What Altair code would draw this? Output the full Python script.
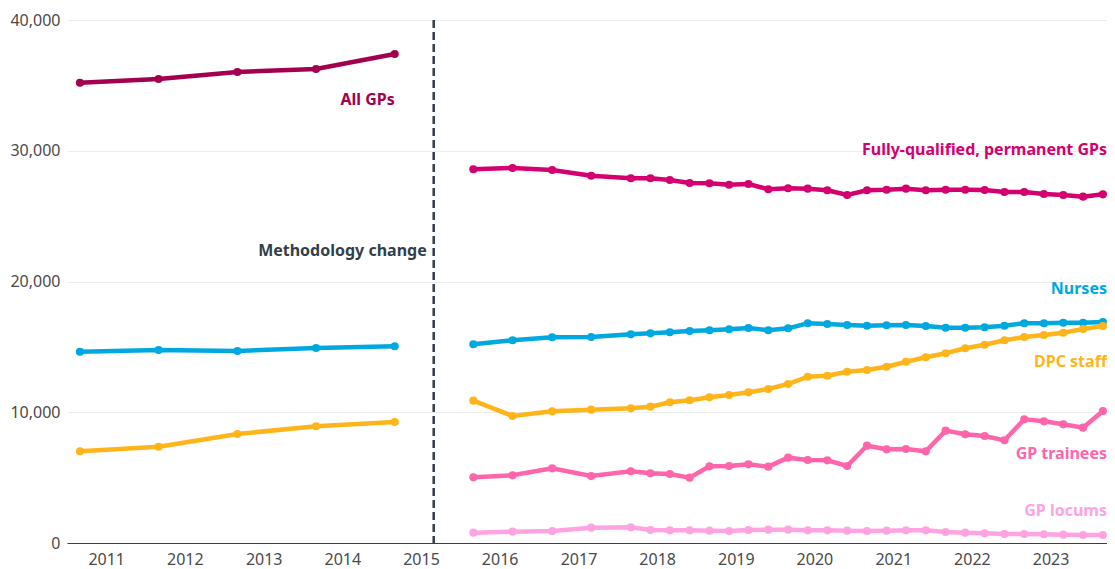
import altair as alt
import pandas as pd

# ---- data ----
pre_dates = ["2010-09-01", "2011-09-01", "2012-09-01", "2013-09-01", "2014-09-01"]
post_dates = ["2015-09-01", "2016-03-01", "2016-09-01", "2017-03-01", "2017-09-01",
              "2017-12-01", "2018-03-01", "2018-06-01", "2018-09-01", "2018-12-01",
              "2019-03-01", "2019-06-01", "2019-09-01", "2019-12-01", "2020-03-01",
              "2020-06-01", "2020-09-01", "2020-12-01", "2021-03-01", "2021-06-01",
              "2021-09-01", "2021-12-01", "2022-03-01", "2022-06-01", "2022-09-01",
              "2022-12-01", "2023-03-01", "2023-06-01", "2023-09-01"]

all_gps_pre = [35205, 35488, 36023, 36252, 37400]
nurses_pre = [14631, 14761, 14685, 14914, 15044]
dpc_pre = [7013, 7365, 8336, 8925, 9254]

fq_gps = [28581, 28681, 28528, 28092, 27893, 27893, 27763, 27533, 27510, 27404,
          27457, 27052, 27128, 27100, 26975, 26616, 26975, 27021, 27100, 26975,
          27021, 27021, 26998, 26845, 26845, 26692, 26616, 26488, 26667]
nurses_post = [15197, 15503, 15732, 15755, 15959, 16036, 16115, 16214, 16268, 16344,
               16444, 16268, 16420, 16803, 16750, 16673, 16620, 16650, 16673, 16597,
               16467, 16467, 16497, 16620, 16803, 16803, 16849, 16849, 16902]
dpc_post = [10885, 9713, 10071, 10198, 10300, 10428, 10760, 10913, 11141, 11319,
            11523, 11780, 12161, 12719, 12795, 13101, 13231, 13484, 13866, 14203,
            14509, 14891, 15166, 15503, 15755, 15908, 16084, 16367, 16597]
trainees = [5022, 5175, 5711, 5124, 5481, 5328, 5277, 4997, 5864, 5889,
            6016, 5838, 6527, 6348, 6322, 5889, 7444, 7164, 7189, 7011,
            8592, 8311, 8184, 7852, 9458, 9305, 9075, 8821, 10096]
locums = [790, 867, 918, 1173, 1198, 994, 969, 969, 943, 918,
          994, 1020, 1020, 969, 969, 943, 918, 943, 969, 969,
          841, 790, 739, 688, 688, 663, 637, 612, 612]

series_names = ["All GPs", "Fully-qualified, permanent GPs", "Nurses", "DPC staff",
                "GP trainees", "GP locums"]
series_colors = ["#a3004f", "#d4006f", "#00a8e0", "#ffb519", "#ff65ab", "#ffa3e3"]

method_date = ["2015-03-01"]
method_text = ["Methodology change"]
method_value = [22330]

label_names = ["All GPs", "Fully-qualified, permanent GPs", "Nurses", "DPC staff",
               "GP trainees", "GP locums"]
label_dates = ["2014-09-01", "2023-09-20", "2023-09-20", "2023-09-20", "2023-09-20", "2023-09-20"]
label_values = [33880, 30050, 19430, 13840, 6810, 2450]
label_dx = [5, 0, 0, 0, 0, 0]

x_domain = ["2010-07-03", "2023-09-20"]
y_ticks = [0, 10000, 20000, 30000, 40000]

# ---- build table ----
rows = []
def add(name, seg, dates, vals):
    for d, v in zip(dates, vals):
        rows.append({"series": name, "segment": f"{name}-{seg}", "date": d, "value": v})

add("All GPs", "pre", pre_dates, all_gps_pre)
add("Nurses", "pre", pre_dates, nurses_pre)
add("DPC staff", "pre", pre_dates, dpc_pre)
add("Fully-qualified, permanent GPs", "post", post_dates, fq_gps)
add("Nurses", "post", post_dates, nurses_post)
add("DPC staff", "post", post_dates, dpc_post)
add("GP trainees", "post", post_dates, trainees)
add("GP locums", "post", post_dates, locums)
df = pd.DataFrame(rows)

labels_df = pd.DataFrame({"series": label_names, "date": label_dates,
                          "value": label_values, "dx": label_dx})
method_df = pd.DataFrame({"date": method_date, "text": method_text, "value": method_value})

FONT = "Noto Sans"
color_scale = alt.Scale(domain=series_names, range=series_colors)
x_scale = alt.Scale(domain=x_domain)
y_scale = alt.Scale(domain=[0, 40000])

x_enc = alt.X("date:T", scale=x_scale, title=None,
              axis=alt.Axis(format="%Y", tickCount={"interval": "year", "step": 1},
                            grid=False, ticks=False, labelPadding=8, labelFontSize=16,
                            labelColor="#4a4a4a", domainColor="#3a3f45", domainWidth=1.2,
                            labelFont=FONT, labelAlign="center"))
y_enc = alt.Y("value:Q", scale=y_scale, title=None,
              axis=alt.Axis(values=y_ticks, format=",.0f", grid=True, gridColor="#ececec",
                            domain=False, ticks=False, labelPadding=7, labelFontSize=16,
                            labelColor="#4a4a4a", labelFont=FONT))

base = alt.Chart(df)
lines = base.mark_line(strokeWidth=4.5).encode(
    x=x_enc, y=y_enc,
    color=alt.Color("series:N", scale=color_scale, legend=None),
    detail="segment:N",
)
points = base.mark_circle(size=66, opacity=1).encode(
    x="date:T", y="value:Q",
    color=alt.Color("series:N", scale=color_scale, legend=None),
)

rule = alt.Chart(method_df).mark_rule(color="#333f48", strokeWidth=2.5, strokeDash=[8, 4]).encode(
    x="date:T"
)
method_label = alt.Chart(method_df).mark_text(
    align="right", baseline="middle", dx=-7, font=FONT, fontSize=16, fontWeight="bold",
    color="#333f48"
).encode(x="date:T", y="value:Q", text="text:N")

series_labels = alt.Chart(labels_df).mark_text(
    align="right", baseline="middle", font=FONT, fontSize=16, fontWeight="bold"
).encode(
    x="date:T", y="value:Q", text="series:N",
    color=alt.Color("series:N", scale=color_scale, legend=None),
    xOffset=alt.XOffset("dx:Q", scale=None),
)

chart = alt.layer(rule, lines, points, method_label, series_labels).properties(
    width=1040, height=523,
    autosize=alt.AutoSizeParams(type="none"),
    padding={"left": 59, "top": 12, "right": 0, "bottom": 26},
).configure_view(stroke=None)

chart.save("out.html", embed_options={"renderer": "svg", "actions": False})
